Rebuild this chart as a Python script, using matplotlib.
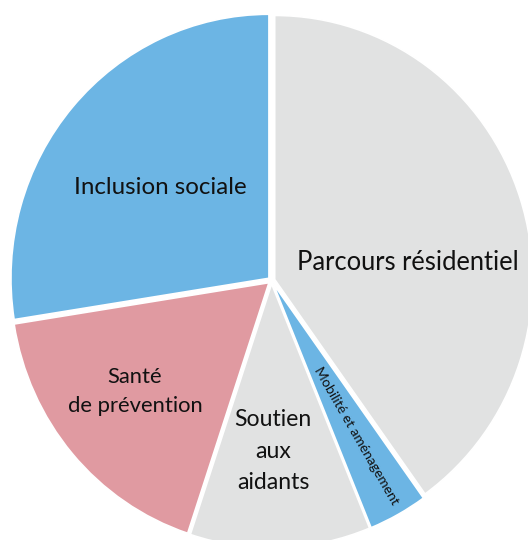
import matplotlib.pyplot as plt

plt.rcParams['font.family'] = ['Lato', 'DejaVu Sans']

# parts of the budget, clockwise from the top
categories = ['Parcours résidentiel', 'Mobilité et aménagement', 'Soutien\naux\naidants',
              'Santé\nde prévention', 'Inclusion sociale']
shares = [40.1, 3.7, 11.3, 17.4, 27.5]
colors = ['#e1e2e2', '#6cb5e4', '#e1e2e2', '#e09aa1', '#6cb5e4']

# label placement (data units, pie radius = 1)
label_xy = [(0.529, 0.070), (0.328, -0.589), (0.006, -0.646), (-0.529, -0.422), (-0.432, 0.354)]
label_rot = [0, -60, 0, 0, 0]
label_size = [18.4, 10, 16.6, 15.8, 17.4]
label_spacing = [1.0, 1.0, 1.64, 1.55, 1.0]

fig = plt.figure(figsize=(5.28, 5.40), dpi=100)
ax = fig.add_axes([0, 0, 1, 1])

ax.pie(shares, colors=colors, startangle=90, counterclock=False,
       explode=[0.013] * len(shares), radius=1.0,
       wedgeprops={'edgecolor': 'white', 'linewidth': 1.2})

for lab, (x, y), rot, fs, ls in zip(categories, label_xy, label_rot, label_size, label_spacing):
    ax.text(x, y, lab, ha='center', va='center', rotation=rot,
            fontsize=fs, color='#111111', linespacing=ls,
            rotation_mode='anchor')

# slightly taller than wide
ax.set_aspect('auto')
ax.set_xlim(-1.0523, 0.9942)
ax.set_ylim(-0.9830, 1.0625)
ax.axis('off')

fig.savefig('out.png', dpi=100)
